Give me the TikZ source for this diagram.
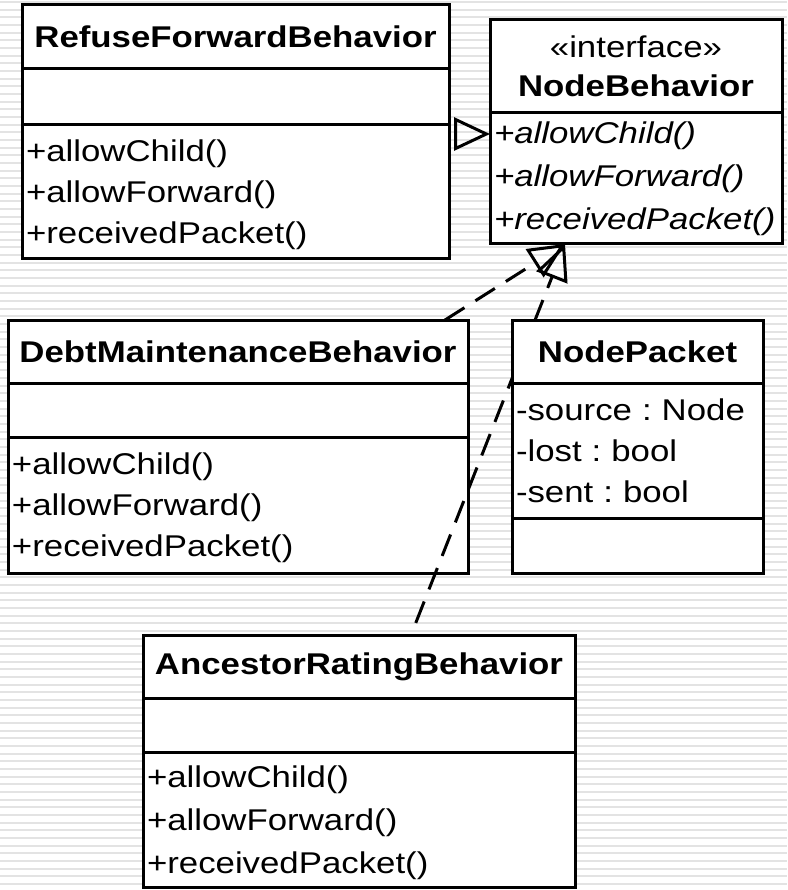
\documentclass[tikz,border=0pt]{standalone}
\usepackage{fontspec}
\setmainfont{Liberation Sans}[FakeStretch=1.16]
\usetikzlibrary{arrows.meta}
\frenchspacing
\newcommand{\toprow}{\rule{0pt}{28pt}}

\begin{document}
\begin{tikzpicture}[x=1pt,y=-1pt]
\tikzstyle{every node}+=[outer sep=0pt]
\tikzstyle{box}=[draw=black, line width=3pt, fill=white, inner xsep=4pt, inner ysep=0pt]
\tikzstyle{head}=[box, align=center, font=\fontsize{30}{39}\selectfont\bfseries]
\tikzstyle{comp}=[box, align=left, font=\fontsize{30}{41}\selectfont]
\tikzstyle{realize}=[line width=3pt, dash pattern=on 23pt off 13pt, -{Triangle[open,length=36pt,width=33pt]}]
\useasboundingbox (0,0) rectangle (787,890);
% striped background
\foreach \i in {0,...,116}
  \draw [black!11, line width=2pt] (0,\i*7.67+2) -- (787,\i*7.67+2);
% RefuseForwardBehavior
\node [head, text width=419pt, minimum height=64pt] (refuse) at (235.5,37) {RefuseForwardBehavior};
\node [comp, text width=419pt, minimum height=56pt] (refuse-attr) at (235.5,97) {};
\node [comp, text width=419pt, minimum height=134pt] (refuse-ops) at (235.5,192) {\toprow+allowChild()\\+allowForward()\\+receivedPacket()};
% NodeBehavior
\node [head, text width=284pt, minimum height=93pt] (nb) at (636,66.5) {\textmd{\guillemotleft interface\guillemotright}\\NodeBehavior};
\node [comp, text width=284pt, minimum height=131pt, font=\fontsize{30}{43}\selectfont\itshape] (nb-ops) at (636,178.5) {+allowChild()\\+allowForward()\\+receivedPacket()};
% DebtMaintenanceBehavior
\node [head, text width=452pt, minimum height=63pt] (debt) at (238,351.5) {DebtMaintenanceBehavior};
\node [comp, text width=452pt, minimum height=54pt] (debt-attr) at (238,410) {};
\node [comp, text width=452pt, minimum height=136pt] (debt-ops) at (238,505) {\toprow+allowChild()\\+allowForward()\\+receivedPacket()};
% AncestorRatingBehavior
\node [head, text width=424pt, minimum height=63pt] (ancestor) at (359,666.5) {AncestorRatingBehavior};
\node [comp, text width=424pt, minimum height=54pt] (ancestor-attr) at (359,725) {};
\node [comp, text width=424pt, minimum height=135pt, font=\fontsize{30}{43}\selectfont] (ancestor-ops) at (359,819.5) {\toprow+allowChild()\\+allowForward()\\+receivedPacket()};
% realizations
\coordinate (nbtip) at ([xshift=-71pt]nb-ops.south);
\coordinate (realtip) at ([yshift=-21pt]nb-ops.north west);
\draw [realize, dash phase=23pt] (refuse-ops.east |- realtip) -- (realtip);
\draw [realize] ([xshift=-23pt]debt.north east) -- (nbtip);
\draw [realize, dash phase=23pt] ([xshift=52pt]ancestor.north) -- (nbtip);
% NodePacket
\node [head, text width=243pt, minimum height=63pt] (packet) at (637.5,351.5) {NodePacket};
\node [comp, text width=243pt, minimum height=135pt] (packet-attr) at (637.5,450.5) {-source : Node\\-lost : bool\\-sent : bool};
\node [comp, text width=243pt, minimum height=55pt] (packet-ops) at (637.5,545.5) {};
\end{tikzpicture}
\end{document}
